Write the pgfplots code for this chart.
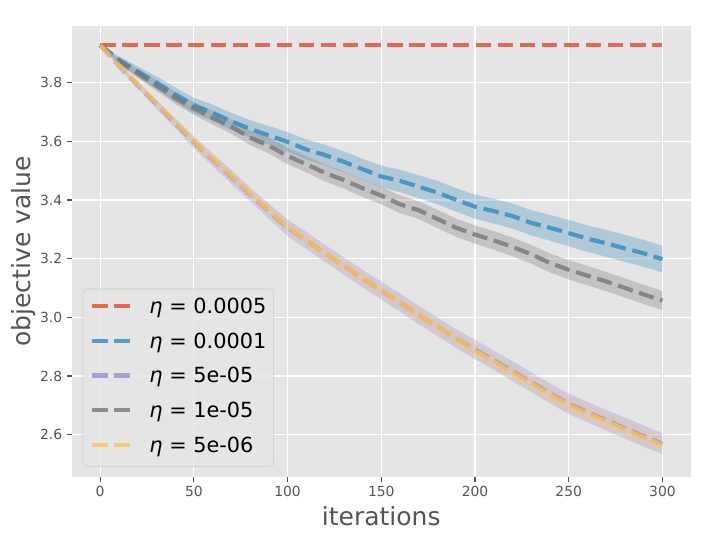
\documentclass[border=0pt]{standalone}
\usepackage{fontspec}
\setmainfont{DejaVu Sans}
\usepackage{pgfplots}
\pgfplotsset{compat=1.18}
\usepackage{pgfplotstable}
\usepgfplotslibrary{fillbetween}
\definecolor{ggred}{HTML}{E24A33}
\definecolor{ggblue}{HTML}{348ABD}
\definecolor{ggpurple}{HTML}{988ED5}
\definecolor{gggrey}{HTML}{777777}
\definecolor{ggyellow}{HTML}{FBC15E}
\definecolor{bgc}{HTML}{E5E5E5}
\definecolor{txtc}{HTML}{555555}
\definecolor{legc}{HTML}{CCCCCC}

\pgfplotstableread{
x m lo hi
0 3.928 3.928 3.928
10 3.878 3.866 3.890
20 3.838 3.820 3.856
30 3.800 3.779 3.821
40 3.760 3.736 3.784
50 3.722 3.696 3.748
60 3.697 3.669 3.725
70 3.668 3.639 3.697
80 3.642 3.612 3.672
90 3.620 3.588 3.652
100 3.598 3.565 3.631
110 3.572 3.538 3.606
120 3.553 3.518 3.588
130 3.530 3.495 3.565
140 3.505 3.469 3.541
150 3.480 3.443 3.517
160 3.465 3.427 3.503
170 3.445 3.406 3.484
180 3.425 3.385 3.465
190 3.400 3.360 3.440
200 3.377 3.336 3.418
210 3.362 3.320 3.404
220 3.345 3.302 3.388
230 3.322 3.279 3.365
240 3.305 3.261 3.349
250 3.287 3.242 3.332
260 3.268 3.223 3.313
270 3.252 3.206 3.298
280 3.235 3.189 3.281
290 3.218 3.172 3.264
300 3.198 3.152 3.244
}\tblue

\pgfplotstableread{
x m lo hi
0 3.928 3.928 3.928
10 3.872 3.862 3.882
20 3.832 3.817 3.847
30 3.790 3.772 3.808
40 3.748 3.728 3.768
50 3.712 3.690 3.734
60 3.680 3.657 3.703
70 3.650 3.626 3.674
80 3.612 3.587 3.637
90 3.585 3.558 3.612
100 3.550 3.522 3.578
110 3.522 3.494 3.550
120 3.492 3.463 3.521
130 3.468 3.439 3.497
140 3.440 3.410 3.470
150 3.415 3.385 3.445
160 3.385 3.355 3.415
170 3.365 3.335 3.395
180 3.335 3.304 3.366
190 3.305 3.274 3.336
200 3.282 3.251 3.313
210 3.262 3.230 3.294
220 3.240 3.208 3.272
230 3.215 3.183 3.247
240 3.185 3.153 3.217
250 3.162 3.129 3.195
260 3.142 3.109 3.175
270 3.122 3.089 3.155
280 3.100 3.067 3.133
290 3.078 3.045 3.111
300 3.057 3.024 3.090
}\tgrey

\pgfplotstableread{
x m lo hi
0 3.928 3.928 3.928
10 3.860 3.855 3.865
20 3.795 3.787 3.803
30 3.730 3.720 3.740
40 3.665 3.653 3.677
50 3.600 3.587 3.613
60 3.540 3.526 3.554
70 3.482 3.467 3.497
80 3.422 3.406 3.438
90 3.365 3.348 3.382
100 3.308 3.290 3.326
110 3.262 3.244 3.280
120 3.218 3.199 3.237
130 3.175 3.156 3.194
140 3.132 3.112 3.152
150 3.091 3.071 3.111
160 3.050 3.030 3.070
170 3.008 2.987 3.029
180 2.968 2.947 2.989
190 2.927 2.905 2.949
200 2.886 2.864 2.908
210 2.850 2.828 2.872
220 2.812 2.789 2.835
230 2.775 2.752 2.798
240 2.737 2.714 2.760
250 2.701 2.678 2.724
260 2.673 2.649 2.697
270 2.645 2.621 2.669
280 2.618 2.594 2.642
290 2.591 2.567 2.615
300 2.565 2.541 2.589
}\tyellow

\pgfplotstableread{
x m lo hi
0 3.928 3.928 3.928
10 3.857 3.850 3.864
20 3.792 3.780 3.804
30 3.727 3.712 3.742
40 3.662 3.645 3.679
50 3.597 3.577 3.617
60 3.537 3.515 3.559
70 3.479 3.456 3.502
80 3.419 3.395 3.443
90 3.362 3.336 3.388
100 3.305 3.277 3.333
110 3.262 3.233 3.291
120 3.218 3.189 3.247
130 3.175 3.145 3.205
140 3.132 3.102 3.162
150 3.091 3.060 3.122
160 3.050 3.019 3.081
170 3.008 2.976 3.040
180 2.968 2.936 3.000
190 2.927 2.895 2.959
200 2.890 2.857 2.923
210 2.854 2.821 2.887
220 2.816 2.782 2.850
230 2.779 2.745 2.813
240 2.741 2.707 2.775
250 2.705 2.670 2.740
260 2.677 2.642 2.712
270 2.649 2.614 2.684
280 2.622 2.586 2.658
290 2.595 2.559 2.631
300 2.569 2.533 2.605
}\tpurple

\begin{document}
\begin{tikzpicture}
\begin{axis}[
  scale only axis,
  width=445.4pt, height=324.7pt,
  xmin=-15, xmax=315, ymin=2.456, ymax=3.993,
  axis background/.style={fill=bgc},
  axis line style={draw=none},
  grid=major,
  major grid style={white, line width=0.8pt},
  xtick={0,50,100,150,200,250,300},
  ytick={2.6,2.8,3.0,3.2,3.4,3.6,3.8},
  yticklabel style={/pgf/number format/.cd, fixed, fixed zerofill, precision=1},
  /pgf/number format/assume math mode=true,
  tick align=outside, tick pos=left,
  major tick length=3.5pt,
  tick style={color=txtc, line width=0.8pt},
  ticklabel style={font=\fontsize{10}{12}\selectfont, text=txtc},
  every axis x label/.style={at={(axis description cs:0.5,0)}, anchor=base, yshift=-35.1pt},
  every axis y label/.style={at={(axis description cs:0,0.5)}, xshift=-30.2pt, rotate=90, anchor=base},
  label style={font=\fontsize{18}{21.6}\selectfont, text=txtc},
  xlabel={iterations},
  ylabel={objective value},
  legend cell align=left,
  legend image code/.code={\draw[#1] (0pt,5.3pt) -- (27pt,5.3pt);},
  legend style={at={(axis description cs:0,0)}, anchor=south west, xshift=7.7pt, yshift=7.4pt,
    fill=bgc, fill opacity=0.8, draw opacity=1, text opacity=1, draw=legc, rounded corners=3pt,
    inner xsep=5.3pt, inner ysep=6.6pt, row sep=10.5pt,
    font=\fontsize{15}{18}\selectfont,
    nodes={inner sep=0pt, text height=11pt, text depth=3.5pt, anchor=base west},
    /tikz/every odd column/.append style={column sep=12.6pt}},
]
% bands
\addplot[name path=bl, draw=none, forget plot] table[x=x,y=lo]{\tblue};
\addplot[name path=bh, draw=none, forget plot] table[x=x,y=hi]{\tblue};
\addplot[fill=ggblue, fill opacity=0.3, draw=none, forget plot] fill between[of=bl and bh];
\addplot[name path=pl, draw=none, forget plot] table[x=x,y=lo]{\tpurple};
\addplot[name path=ph, draw=none, forget plot] table[x=x,y=hi]{\tpurple};
\addplot[fill=ggpurple, fill opacity=0.3, draw=none, forget plot] fill between[of=pl and ph];
\addplot[name path=gl, draw=none, forget plot] table[x=x,y=lo]{\tgrey};
\addplot[name path=gh, draw=none, forget plot] table[x=x,y=hi]{\tgrey};
\addplot[fill=gggrey, fill opacity=0.3, draw=none, forget plot] fill between[of=gl and gh];
\addplot[name path=yl, draw=none, forget plot] table[x=x,y=lo]{\tyellow};
\addplot[name path=yh, draw=none, forget plot] table[x=x,y=hi]{\tyellow};
\addplot[fill=ggyellow, fill opacity=0.3, draw=none, forget plot] fill between[of=yl and yh];
% lines
\addplot[ggred, line width=3pt, dash pattern=on 11.1pt off 4.8pt, draw opacity=0.8] coordinates {(0,3.928) (300,3.928)};
\addlegendentry{\textit{η} = 0.0005}
\addplot[ggblue, line width=3pt, dash pattern=on 11.1pt off 4.8pt, draw opacity=0.8] table[x=x,y=m]{\tblue};
\addlegendentry{\textit{η} = 0.0001}
\addplot[ggpurple, line width=3pt, dash pattern=on 11.1pt off 4.8pt, draw opacity=0.8] table[x=x,y=m]{\tpurple};
\addlegendentry{\textit{η} = 5e-05}
\addplot[gggrey, line width=3pt, dash pattern=on 11.1pt off 4.8pt, draw opacity=0.8] table[x=x,y=m]{\tgrey};
\addlegendentry{\textit{η} = 1e-05}
\addplot[ggyellow, line width=3pt, dash pattern=on 11.1pt off 4.8pt, draw opacity=0.8] table[x=x,y=m]{\tyellow};
\addlegendentry{\textit{η} = 5e-06}
\node[anchor=base west, inner sep=0pt, font=\fontsize{10}{12}\selectfont, text=txtc, yshift=3.8pt] at (axis description cs:0,1) {1e6};
\end{axis}
\pgfresetboundingbox
\useasboundingbox (-51.84pt,-46.08pt) rectangle (452.9pt,343.4pt);
\end{tikzpicture}
\end{document}
